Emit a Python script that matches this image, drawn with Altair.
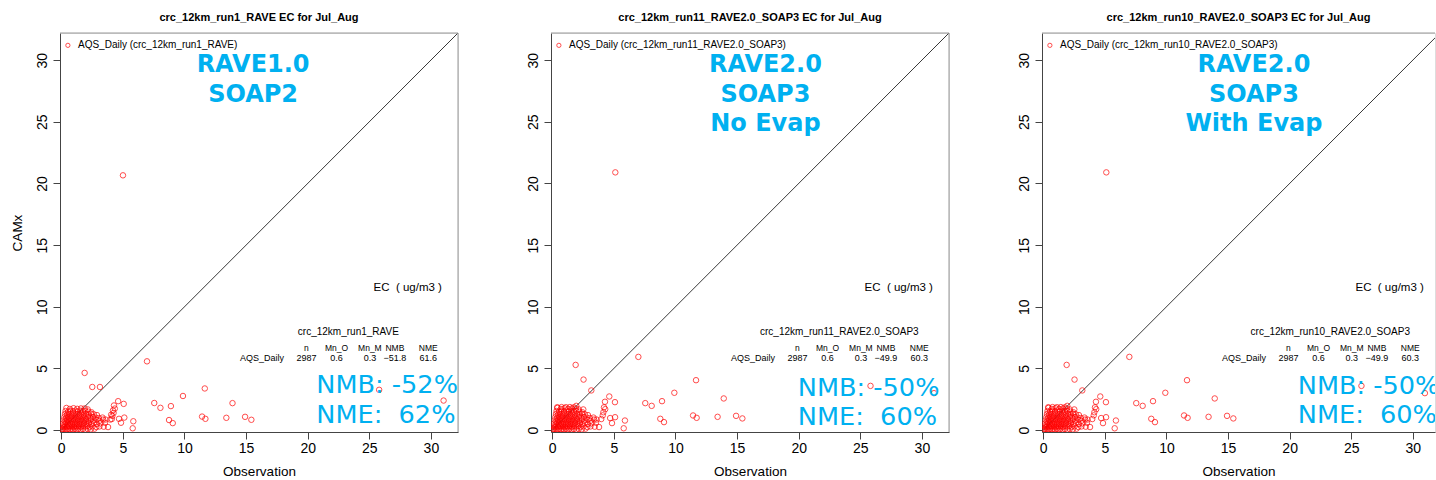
import altair as alt
import pandas as pd

# ---------------- data ----------------
TITLES = ["crc_12km_run1_RAVE EC for Jul_Aug",
          "crc_12km_run11_RAVE2.0_SOAP3 EC for Jul_Aug",
          "crc_12km_run10_RAVE2.0_SOAP3 EC for Jul_Aug"]
RUNS = ["crc_12km_run1_RAVE", "crc_12km_run11_RAVE2.0_SOAP3", "crc_12km_run10_RAVE2.0_SOAP3"]
LEGEND = ["AQS_Daily (crc_12km_run1_RAVE)",
          "AQS_Daily (crc_12km_run11_RAVE2.0_SOAP3)",
          "AQS_Daily (crc_12km_run10_RAVE2.0_SOAP3)"]
LABELS = [["RAVE1.0", "SOAP2"],
          ["RAVE2.0", "SOAP3", "No Evap"],
          ["RAVE2.0", "SOAP3", "With Evap"]]
STAT_HEAD = ["n", "Mn_O", "Mn_M", "NMB", "NME"]
STAT_ROW_NAME = "AQS_Daily"
STAT_ROWS = [["2987", "0.6", "0.3", "\u221251.8", "61.6"],
             ["2987", "0.6", "0.3", "\u221249.9", "60.3"],
             ["2987", "0.6", "0.3", "\u221249.9", "60.3"]]
NMB_TXT = ["NMB: -52%", "NMB: -50%", "NMB: -50%"]
NME_TXT = ["NME:\u00a0 62%", "NME:\u00a0 60%", "NME:\u00a0 60%"]
UNIT_TXT = "EC\u00a0 ( ug/m3 )"
TICKS = [0, 5, 10, 15, 20, 25, 30]

# dense cluster near the origin (obs, model)
CLUSTER = [
    (0.02, 0.02), (0.08, 0.10), (0.18, 0.05), (0.30, 0.08), (0.42, 0.03), (0.55, 0.10),
    (0.68, 0.05), (0.82, 0.08), (0.95, 0.04), (1.10, 0.09), (1.25, 0.05), (1.40, 0.10),
    (1.58, 0.06), (1.75, 0.10), (1.95, 0.05), (2.15, 0.10), (2.40, 0.07), (2.70, 0.12),
    (0.10, 0.30), (0.22, 0.25), (0.35, 0.32), (0.48, 0.27), (0.60, 0.33), (0.74, 0.28),
    (0.88, 0.31), (1.02, 0.26), (1.16, 0.33), (1.30, 0.28), (1.45, 0.32), (1.60, 0.27),
    (1.78, 0.33), (1.95, 0.28), (2.12, 0.33), (2.30, 0.27), (2.55, 0.31), (2.85, 0.25),
    (3.10, 0.30), (3.45, 0.28), (3.80, 0.25),
    (0.15, 0.55), (0.28, 0.50), (0.42, 0.58), (0.56, 0.52), (0.70, 0.57), (0.84, 0.50),
    (0.98, 0.56), (1.12, 0.52), (1.27, 0.58), (1.42, 0.50), (1.57, 0.56), (1.72, 0.52),
    (1.88, 0.58), (2.05, 0.51), (2.22, 0.57), (2.42, 0.52), (2.65, 0.58), (2.90, 0.50),
    (3.20, 0.55), (3.55, 0.60),
    (0.20, 0.80), (0.34, 0.75), (0.48, 0.82), (0.62, 0.77), (0.77, 0.83), (0.92, 0.76),
    (1.07, 0.82), (1.22, 0.77), (1.37, 0.83), (1.52, 0.76), (1.68, 0.82), (1.84, 0.77),
    (2.00, 0.83), (2.18, 0.76), (2.38, 0.82), (2.60, 0.78), (2.85, 0.84), (3.10, 0.76),
    (3.40, 0.86), (3.60, 0.86),
    (0.25, 1.05), (0.40, 1.00), (0.55, 1.07), (0.70, 1.02), (0.86, 1.08), (1.02, 1.00),
    (1.18, 1.06), (1.34, 1.01), (1.50, 1.07), (1.66, 1.02), (1.82, 1.08), (1.98, 1.01),
    (2.16, 1.06), (2.36, 1.00), (2.58, 1.07), (2.80, 1.02), (3.05, 0.98), (3.35, 1.02),
    (0.30, 1.30), (0.46, 1.26), (0.62, 1.32), (0.80, 1.27), (0.97, 1.33), (1.14, 1.26),
    (1.31, 1.32), (1.48, 1.27), (1.65, 1.33), (1.82, 1.26), (2.00, 1.31), (2.20, 1.27),
    (2.42, 1.33), (2.65, 1.28), (2.90, 1.22),
    (0.35, 1.55), (0.55, 1.50), (0.75, 1.57), (0.95, 1.52), (1.15, 1.58), (1.35, 1.51),
    (1.55, 1.57), (1.75, 1.52), (1.95, 1.56), (2.20, 1.50), (2.45, 1.45),
    (0.42, 1.80), (0.70, 1.72), (1.00, 1.78), (1.30, 1.73), (1.60, 1.76), (1.90, 1.76),
    (2.15, 1.68),
]
# extra cluster points seen in the SOAP3 runs
CLUSTER_23 = [(0.41, 1.86), (0.76, 1.87), (1.11, 1.86), (1.43, 1.87), (1.75, 1.85),
              (1.95, 1.97), (2.52, 1.68)]

OUT_1 = [(5.01, 20.66), (6.96, 5.58), (1.90, 4.64), (2.52, 3.50), (3.14, 3.50), (4.62, 2.35),
         (5.07, 2.13), (4.28, 2.00), (4.35, 1.75), (4.20, 1.60), (4.25, 1.40), (4.05, 1.25),
         (4.15, 1.15), (4.10, 0.90), (3.98, 0.86), (4.69, 0.92), (5.12, 1.02), (4.85, 0.60),
         (5.85, 0.72), (5.80, 0.15), (7.55, 2.20), (8.05, 1.81), (8.90, 1.95), (9.88, 2.77),
         (8.75, 0.82), (9.05, 0.57), (11.65, 3.38), (11.43, 1.10), (11.70, 0.92), (13.40, 1.00),
         (13.90, 2.19), (14.92, 1.08), (15.43, 0.84), (25.80, 3.27), (31.03, 2.40)]
OUT_23 = [(5.12, 20.90), (6.99, 5.94), (1.90, 5.29), (2.54, 4.10), (3.17, 3.22), (4.63, 2.73),
          (4.28, 2.30), (5.09, 2.27), (4.20, 1.85), (4.30, 1.70), (4.15, 1.45), (4.10, 1.20),
          (3.98, 0.90), (4.70, 0.98), (5.10, 1.05), (4.85, 0.57), (5.90, 0.78), (5.80, 0.15),
          (7.55, 2.19), (8.07, 1.97), (8.91, 2.35), (9.91, 3.03), (8.77, 0.92), (9.07, 0.65),
          (11.67, 4.05), (11.43, 1.19), (11.72, 1.00), (13.42, 1.08), (13.92, 2.57),
          (14.92, 1.16), (15.43, 0.95), (25.83, 3.59), (30.98, 3.00)]

POINTS = [CLUSTER + OUT_1, CLUSTER + CLUSTER_23 + OUT_23, CLUSTER + CLUSTER_23 + OUT_23]

# ---------------- layout / style ----------------
FONT = "Liberation Sans"
BIGFONT = "DejaVu Sans"
CYAN = "#00B0F0"
XMIN, YMIN, YMAX = -0.1, -0.15, 32.2
XMAX = [32.2, 32.2, 31.8]
WIDTHS = [398, 398, 393]
HEIGHT = 399

BIG_X = [15.57, 17.3, 17.1]
BIG_Y = [29.58, 27.19, 24.84]
NMB_X = [20.7, 19.93, 20.66]
NMB_Y = [3.65, 3.40, 3.62]
NME_Y = [1.22, 1.05, 1.22]
HEAD_X = [19.9, 22.34, 25.05, 27.08, 29.79]


def panel(i):
    xmax = XMAX[i]
    xax = alt.Axis(values=TICKS, title="Observation", grid=False, tickSize=7,
                   labelPadding=2, labelFontSize=14, labelFont=FONT, labelColor="#000",
                   titleFont=FONT, titleFontSize=13.5, titleFontWeight="normal",
                   titleColor="#000", titlePadding=9, domainColor="#444",
                   tickColor="#444", labelFlush=False)
    yax = alt.Axis(values=TICKS, title="CAMx" if i == 0 else None, grid=False, tickSize=7,
                   labelPadding=4, labelFontSize=14, labelFont=FONT, labelColor="#000",
                   labelAngle=-90, labelAlign="center", labelBaseline="bottom",
                   titleFont=FONT, titleFontSize=13.5, titleFontWeight="normal",
                   titleColor="#000", titlePadding=11, domainColor="#444",
                   tickColor="#444", labelFlush=False)

    def X():
        return alt.X("x:Q", scale=alt.Scale(domain=[XMIN, xmax], nice=False, zero=False), axis=xax)

    def Y():
        return alt.Y("y:Q", scale=alt.Scale(domain=[YMIN, YMAX], nice=False, zero=False), axis=yax)

    pts = pd.DataFrame(POINTS[i], columns=["x", "y"])
    layers = []
    layers.append(alt.Chart(pd.DataFrame({"x": [-1.0, 40.0], "y": [-1.0, 40.0]}))
                  .mark_line(color="#222", strokeWidth=0.9, clip=True)
                  .encode(x=X(), y=Y()))
    layers.append(alt.Chart(pts).mark_point(shape="circle", filled=False, color="#ff0000",
                                            size=30, strokeWidth=1, clip=True)
                  .encode(x=X(), y=Y()))
    # box top / right
    layers.append(alt.Chart(pd.DataFrame({"y": [YMAX]})).mark_rule(color="#999", strokeWidth=1)
                  .encode(y=Y()))
    if i < 2:
        layers.append(alt.Chart(pd.DataFrame({"x": [xmax]})).mark_rule(color="#999", strokeWidth=1)
                      .encode(x=X()))
    # legend
    layers.append(alt.Chart(pd.DataFrame({"x": [0.54], "y": [31.2]}))
                  .mark_point(shape="circle", filled=False, color="#ff0000", size=18, strokeWidth=1)
                  .encode(x=X(), y=Y()))
    layers.append(alt.Chart(pd.DataFrame({"x": [1.36], "y": [31.2], "t": [LEGEND[i]]}))
                  .mark_text(align="left", baseline="middle", font=FONT, fontSize=10, color="#000", clip=True)
                  .encode(x=X(), y=Y(), text="t:N"))
    # big labels
    labs = LABELS[i]
    layers.append(alt.Chart(pd.DataFrame({"x": [BIG_X[i]] * len(labs), "y": BIG_Y[:len(labs)], "t": labs}))
                  .mark_text(align="center", baseline="middle", font=BIGFONT, fontSize=24,
                             fontWeight="bold", color=CYAN, clip=True)
                  .encode(x=X(), y=Y(), text="t:N"))
    # units
    layers.append(alt.Chart(pd.DataFrame({"x": [28.12], "y": [11.53], "t": [UNIT_TXT]}))
                  .mark_text(align="center", baseline="middle", font=FONT, fontSize=11.5, color="#000", clip=True)
                  .encode(x=X(), y=Y(), text="t:N"))
    # stats table
    layers.append(alt.Chart(pd.DataFrame({"x": [23.3], "y": [7.94], "t": [RUNS[i]]}))
                  .mark_text(align="center", baseline="middle", font=FONT, fontSize=10, color="#000", clip=True)
                  .encode(x=X(), y=Y(), text="t:N"))
    layers.append(alt.Chart(pd.DataFrame({"x": HEAD_X, "y": [6.67] * 5, "t": STAT_HEAD}))
                  .mark_text(align="center", baseline="middle", font=FONT, fontSize=8.5, color="#000", clip=True)
                  .encode(x=X(), y=Y(), text="t:N"))
    layers.append(alt.Chart(pd.DataFrame({"x": [16.3] + HEAD_X, "y": [5.81] * 6,
                                          "t": [STAT_ROW_NAME] + STAT_ROWS[i]}))
                  .mark_text(align="center", baseline="middle", font=FONT, fontSize=9, color="#000", clip=True)
                  .encode(x=X(), y=Y(), text="t:N"))
    # NMB / NME
    layers.append(alt.Chart(pd.DataFrame({"x": [NMB_X[i]] * 2, "y": [NMB_Y[i], NME_Y[i]],
                                          "t": [NMB_TXT[i], NME_TXT[i]]}))
                  .mark_text(align="left", baseline="middle", font=BIGFONT, fontSize=25.6,
                             color=CYAN, clip=True)
                  .encode(x=X(), y=Y(), text="t:N"))

    return alt.layer(*layers).properties(
        width=WIDTHS[i], height=HEIGHT,
        title=alt.TitleParams(TITLES[i], font=FONT, fontSize=11, fontWeight="bold",
                              color="#000", offset=10, anchor="middle"))


chart = alt.hconcat(panel(0), panel(1), panel(2), spacing=66).properties(
    padding={"left": 9, "top": 11, "right": 0, "bottom": 0}
).configure_view(stroke=None).configure(background="white")

chart.save("out.html", embed_options={"renderer": "svg", "actions": False})
